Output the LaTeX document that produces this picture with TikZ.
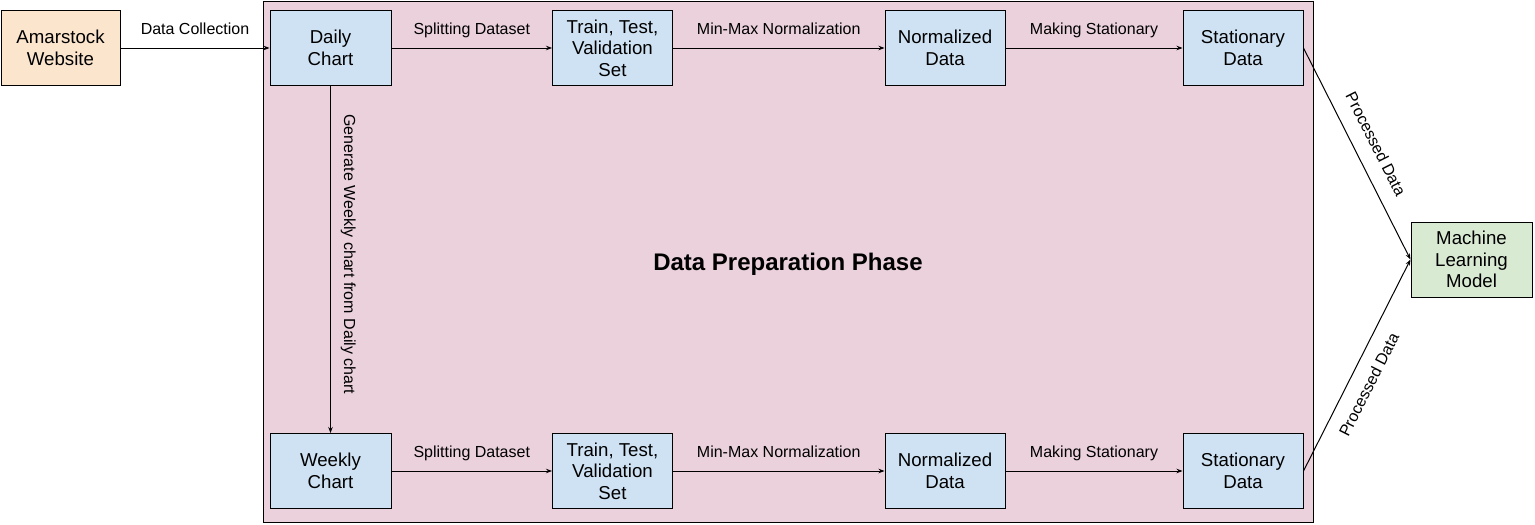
\documentclass[tikz,border=0pt]{standalone}
\usepackage{fontspec}
\setmainfont{Liberation Sans}
\usetikzlibrary{arrows.meta}
\definecolor{orangefill}{HTML}{FCE5CD}
\definecolor{bluefill}{HTML}{CFE2F3}
\definecolor{greenfill}{HTML}{D9EAD3}
\definecolor{pinkfill}{HTML}{EAD1DC}
\begin{document}
\begin{tikzpicture}[x=1pt,y=-1pt,
 box/.style={draw=black, line width=1pt, minimum width=120pt, minimum height=75pt, inner sep=0pt, align=center, font=\fontsize{18.67}{21.5}\selectfont},
 bluebox/.style={box, fill=bluefill},
 conn/.style={draw=black, line width=1pt, -{Stealth[length=6pt,width=4.5pt]}},
 lbl/.style={font=\fontsize{16}{18}\selectfont, inner sep=0pt, text depth=0pt, midway},
]
\useasboundingbox (0,0) rectangle (1535,525);
\node[draw=black, line width=1pt, fill=pinkfill, minimum width=1050pt, minimum height=521pt, inner sep=0pt] (phase) at (788,261.5) {};
\node[font=\bfseries\fontsize{24}{28}\selectfont, inner sep=0pt] (title) at (788,264.5) {Data Preparation Phase};

\node[box, fill=orangefill, minimum width=119pt] (amar) at (60.5,48) {Amarstock\\Website};
\node[bluebox, minimum width=121pt] (daily) at (330.5,48) {Daily\\Chart};
\node[bluebox] (train1) at (612.5,48) {Train, Test,\\Validation\\Set};
\node[bluebox] (norm1) at (945,48) {Normalized\\Data};
\node[bluebox] (stat1) at (1243,48) {Stationary\\Data};

\node[bluebox, minimum width=121pt] (weekly) at (330.5,471) {Weekly\\Chart};
\node[bluebox] (train2) at (612.5,471) {Train, Test,\\Validation\\Set};
\node[bluebox] (norm2) at (945,471) {Normalized\\Data};
\node[bluebox] (stat2) at (1243,471) {Stationary\\Data};

\node[box, fill=greenfill, minimum width=121pt] (ml) at (1471.5,259.5) {Machine\\Learning\\Model};

\draw[conn] (amar) -- node[lbl, above=13pt]{Data Collection} (daily);
\draw[conn] (daily) -- node[lbl, above=13pt]{Splitting Dataset} (train1);
\draw[conn] (train1) -- node[lbl, above=13pt]{Min-Max Normalization} (norm1);
\draw[conn] (norm1) -- node[lbl, above=13pt]{Making Stationary} (stat1);

\draw[conn] (weekly) -- node[lbl, above=13pt]{Splitting Dataset} (train2);
\draw[conn] (train2) -- node[lbl, above=13pt]{Min-Max Normalization} (norm2);
\draw[conn] (norm2) -- node[lbl, above=13pt]{Making Stationary} (stat2);

\draw[conn] (daily) -- node[lbl, sloped, above=13pt, pos=0.485]{Generate Weekly chart from Daily chart} (weekly);

\draw[conn] (stat1.east) -- node[lbl, sloped, above=15pt]{Processed Data} (ml.west);
\draw[conn] (stat2.east) -- node[lbl, sloped, below=13pt, pos=0.45]{Processed Data} (ml.west);
\end{tikzpicture}
\end{document}
